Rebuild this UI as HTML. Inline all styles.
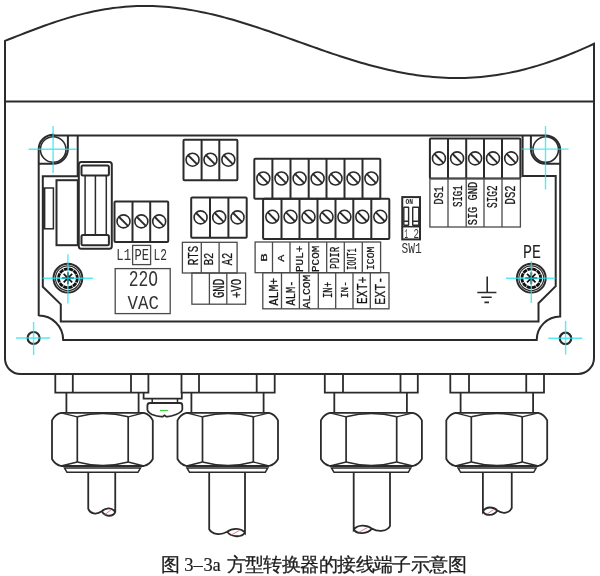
<!DOCTYPE html>
<html><head><meta charset="utf-8"><style>
html,body{margin:0;padding:0;background:#fff;width:600px;height:576px;overflow:hidden}
svg{display:block;will-change:transform}
</style></head><body>
<svg width="600" height="576" viewBox="0 0 600 576">
<path d="M5.0,40.86 L9.0,39.30 L13.0,37.74 L17.0,36.17 L21.0,34.60 L25.0,33.05 L29.0,31.50 L33.0,29.98 L37.0,28.47 L41.0,26.99 L45.0,25.54 L49.0,24.13 L53.0,22.75 L57.0,21.41 L61.0,20.11 L65.0,18.86 L69.0,17.65 L73.0,16.50 L77.0,15.40 L81.0,14.35 L85.0,13.36 L89.0,12.42 L93.0,11.55 L97.0,10.74 L101.0,9.99 L105.0,9.30 L109.0,8.67 L113.0,8.11 L117.0,7.62 L121.0,7.19 L125.0,6.82 L129.0,6.52 L133.0,6.29 L137.0,6.12 L141.0,6.02 L145.0,5.99 L149.0,6.01 L153.0,6.11 L157.0,6.26 L161.0,6.48 L165.0,6.76 L169.0,7.11 L173.0,7.51 L177.0,7.97 L181.0,8.49 L185.0,9.07 L189.0,9.70 L193.0,10.38 L197.0,11.12 L201.0,11.91 L205.0,12.74 L209.0,13.63 L213.0,14.56 L217.0,15.53 L221.0,16.55 L225.0,17.60 L229.0,18.70 L233.0,19.83 L237.0,21.00 L241.0,22.20 L245.0,23.42 L249.0,24.68 L253.0,25.96 L257.0,27.27 L261.0,28.60 L265.0,29.95 L269.0,31.32 L273.0,32.70 L277.0,34.10 L281.0,35.50 L285.0,36.92 L289.0,38.34 L293.0,39.77 L297.0,41.20 L301.0,42.63 L305.0,44.06 L309.0,45.48 L313.0,46.90 L317.0,48.31 L321.0,49.71 L325.0,51.10 L329.0,52.47 L333.0,53.83 L337.0,55.16 L341.0,56.48 L345.0,57.77 L349.0,59.04 L353.0,60.28 L357.0,61.49 L361.0,62.68 L365.0,63.83 L369.0,64.95 L373.0,66.03 L377.0,67.07 L381.0,68.08 L385.0,69.05 L389.0,69.97 L393.0,70.85 L397.0,71.69 L401.0,72.47 L405.0,73.22 L409.0,73.91 L413.0,74.55 L417.0,75.14 L421.0,75.68 L425.0,76.17 L429.0,76.60 L433.0,76.98 L437.0,77.30 L441.0,77.56 L445.0,77.77 L449.0,77.91 L453.0,78.00 L457.0,78.03 L461.0,78.00 L465.0,77.91 L469.0,77.76 L473.0,77.54 L477.0,77.27 L481.0,76.93 L485.0,76.53 L489.0,76.07 L493.0,75.55 L497.0,74.97 L501.0,74.33 L505.0,73.63 L509.0,72.86 L513.0,72.04 L517.0,71.15 L521.0,70.21 L525.0,69.21 L529.0,68.15 L533.0,67.04 L537.0,65.87 L541.0,64.64 L545.0,63.36 L549.0,62.03 L553.0,60.65 L557.0,59.21 L561.0,57.73 L565.0,56.20 L569.0,54.62 L573.0,52.99 L577.0,51.33 L581.0,49.62 L585.0,47.87 L589.0,46.09 L593.0,44.26 L594.0,43.80 L594,358 A16,16 0 0 1 578,374 L20.5,374 A15.5,15.5 0 0 1 5,358.5 Z" fill="none" stroke="#2b2b2b" stroke-width="2"/>
<line x1="5" y1="101.5" x2="594" y2="101.5" stroke="#2b2b2b" stroke-width="2.2"/>
<path d="M38.7,316 L38.7,149.3 A14.5,14.5 0 0 1 53.2,134.8 L53.2,135.5 L545.6,135.5 A14.6,14.6 0 0 1 560.2,150.1 L560.2,316.5 A23.5,23.5 0 0 0 536.7,340 L63.2,340 A24.5,24.5 0 0 0 38.7,315.5" fill="none" stroke="#2b2b2b" stroke-width="2"/>
<path d="M38.7,163.8 L53.1,163.8 A14.8,14.8 0 0 0 67.9,149.2 L67.9,135.5" fill="none" stroke="#2b2b2b" stroke-width="2"/>
<path d="M530.9,135.5 L530.9,149.1 A14.6,14.6 0 0 0 545.5,163.8 L560.2,163.8" fill="none" stroke="#2b2b2b" stroke-width="2"/>
<circle cx="53.2" cy="149.5" r="12.8" fill="none" stroke="#2b2b2b" stroke-width="1.6"/>
<circle cx="545.7" cy="149.6" r="12.8" fill="none" stroke="#2b2b2b" stroke-width="1.6"/>
<path d="M77.7,135.5 L77.7,176.2 L42.8,176.2 L42.8,286.8 L60.8,304.4 L60.8,321.4 L538.5,321.4 L538.5,303.2 L555.7,286.2 L555.7,176 L522.6,176 L522.6,135.5" fill="none" stroke="#2b2b2b" stroke-width="2"/>
<circle cx="33.6" cy="338" r="6" fill="none" stroke="#2b2b2b" stroke-width="2.2"/>
<circle cx="565.5" cy="338.4" r="5.7" fill="none" stroke="#2b2b2b" stroke-width="2.2"/>
<rect x="44" y="188" width="9.4" height="40.8" fill="none" stroke="#2b2b2b" stroke-width="1.5"/>
<line x1="44.3" y1="188" x2="44.3" y2="228.8" stroke="#2b2b2b" stroke-width="2.2"/>
<rect x="56.5" y="180.2" width="21.3" height="65" fill="none" stroke="#2b2b2b" stroke-width="2"/>
<rect x="78.8" y="162" width="33" height="86.8" rx="2.5" fill="none" stroke="#2b2b2b" stroke-width="2"/>
<rect x="81.5" y="165.4" width="27.4" height="10.1" rx="1.5" fill="none" stroke="#2b2b2b" stroke-width="2"/>
<rect x="81.5" y="234.9" width="27.4" height="10.3" rx="1.5" fill="none" stroke="#2b2b2b" stroke-width="2"/>
<path d="M85.1,175.5 V234.9 M95.4,175.5 V234.9 M106.3,175.5 V234.9" stroke="#2b2b2b" stroke-width="1.5"/>
<rect x="114.5" y="201.5" width="53.70" height="40.50" rx="1" fill="none" stroke="#2b2b2b" stroke-width="2"/>
<line x1="132.5" y1="201.5" x2="132.5" y2="242" stroke="#2b2b2b" stroke-width="2"/>
<line x1="150.2" y1="201.5" x2="150.2" y2="242" stroke="#2b2b2b" stroke-width="2"/>
<circle cx="123.5" cy="221.4" r="6.5" fill="none" stroke="#2b2b2b" stroke-width="1.6"/>
<line x1="118.82" y1="216.72" x2="128.18" y2="226.08" stroke="#2b2b2b" stroke-width="1.9"/>
<circle cx="141.35" cy="221.4" r="6.5" fill="none" stroke="#2b2b2b" stroke-width="1.6"/>
<line x1="136.67" y1="216.72" x2="146.03" y2="226.08" stroke="#2b2b2b" stroke-width="1.9"/>
<circle cx="159.2" cy="221.4" r="6.5" fill="none" stroke="#2b2b2b" stroke-width="1.6"/>
<line x1="154.52" y1="216.72" x2="163.88" y2="226.08" stroke="#2b2b2b" stroke-width="1.9"/>
<rect x="183.5" y="139.8" width="53.90" height="40.40" rx="1" fill="none" stroke="#2b2b2b" stroke-width="2"/>
<line x1="201.6" y1="139.8" x2="201.6" y2="180.2" stroke="#2b2b2b" stroke-width="2"/>
<line x1="219.3" y1="139.8" x2="219.3" y2="180.2" stroke="#2b2b2b" stroke-width="2"/>
<circle cx="192.55" cy="159.7" r="6.5" fill="none" stroke="#2b2b2b" stroke-width="1.6"/>
<line x1="187.87" y1="155.02" x2="197.23" y2="164.38" stroke="#2b2b2b" stroke-width="1.9"/>
<circle cx="210.45" cy="159.7" r="6.5" fill="none" stroke="#2b2b2b" stroke-width="1.6"/>
<line x1="205.77" y1="155.02" x2="215.13" y2="164.38" stroke="#2b2b2b" stroke-width="1.9"/>
<circle cx="228.35000000000002" cy="159.7" r="6.5" fill="none" stroke="#2b2b2b" stroke-width="1.6"/>
<line x1="223.67" y1="155.02" x2="233.03" y2="164.38" stroke="#2b2b2b" stroke-width="1.9"/>
<rect x="191.2" y="197.4" width="55.50" height="40.40" rx="1" fill="none" stroke="#2b2b2b" stroke-width="2"/>
<line x1="210" y1="197.4" x2="210" y2="237.8" stroke="#2b2b2b" stroke-width="2"/>
<line x1="228.4" y1="197.4" x2="228.4" y2="237.8" stroke="#2b2b2b" stroke-width="2"/>
<circle cx="200.6" cy="217.4" r="6.5" fill="none" stroke="#2b2b2b" stroke-width="1.6"/>
<line x1="195.92" y1="212.72" x2="205.28" y2="222.08" stroke="#2b2b2b" stroke-width="1.9"/>
<circle cx="219.2" cy="217.4" r="6.5" fill="none" stroke="#2b2b2b" stroke-width="1.6"/>
<line x1="214.52" y1="212.72" x2="223.88" y2="222.08" stroke="#2b2b2b" stroke-width="1.9"/>
<circle cx="237.55" cy="217.4" r="6.5" fill="none" stroke="#2b2b2b" stroke-width="1.6"/>
<line x1="232.87" y1="212.72" x2="242.23" y2="222.08" stroke="#2b2b2b" stroke-width="1.9"/>
<rect x="254.3" y="158.8" width="126.00" height="39.90" rx="1" fill="none" stroke="#2b2b2b" stroke-width="2"/>
<line x1="272.4" y1="158.8" x2="272.4" y2="198.7" stroke="#2b2b2b" stroke-width="2"/>
<line x1="290.5" y1="158.8" x2="290.5" y2="198.7" stroke="#2b2b2b" stroke-width="2"/>
<line x1="308.7" y1="158.8" x2="308.7" y2="198.7" stroke="#2b2b2b" stroke-width="2"/>
<line x1="326.5" y1="158.8" x2="326.5" y2="198.7" stroke="#2b2b2b" stroke-width="2"/>
<line x1="344.5" y1="158.8" x2="344.5" y2="198.7" stroke="#2b2b2b" stroke-width="2"/>
<line x1="362.5" y1="158.8" x2="362.5" y2="198.7" stroke="#2b2b2b" stroke-width="2"/>
<circle cx="263.35" cy="178.5" r="6.5" fill="none" stroke="#2b2b2b" stroke-width="1.6"/>
<line x1="258.67" y1="173.82" x2="268.03" y2="183.18" stroke="#2b2b2b" stroke-width="1.9"/>
<circle cx="281.45" cy="178.5" r="6.5" fill="none" stroke="#2b2b2b" stroke-width="1.6"/>
<line x1="276.77" y1="173.82" x2="286.13" y2="183.18" stroke="#2b2b2b" stroke-width="1.9"/>
<circle cx="299.6" cy="178.5" r="6.5" fill="none" stroke="#2b2b2b" stroke-width="1.6"/>
<line x1="294.92" y1="173.82" x2="304.28" y2="183.18" stroke="#2b2b2b" stroke-width="1.9"/>
<circle cx="317.6" cy="178.5" r="6.5" fill="none" stroke="#2b2b2b" stroke-width="1.6"/>
<line x1="312.92" y1="173.82" x2="322.28" y2="183.18" stroke="#2b2b2b" stroke-width="1.9"/>
<circle cx="335.5" cy="178.5" r="6.5" fill="none" stroke="#2b2b2b" stroke-width="1.6"/>
<line x1="330.82" y1="173.82" x2="340.18" y2="183.18" stroke="#2b2b2b" stroke-width="1.9"/>
<circle cx="353.5" cy="178.5" r="6.5" fill="none" stroke="#2b2b2b" stroke-width="1.6"/>
<line x1="348.82" y1="173.82" x2="358.18" y2="183.18" stroke="#2b2b2b" stroke-width="1.9"/>
<circle cx="371.4" cy="178.5" r="6.5" fill="none" stroke="#2b2b2b" stroke-width="1.6"/>
<line x1="366.72" y1="173.82" x2="376.08" y2="183.18" stroke="#2b2b2b" stroke-width="1.9"/>
<rect x="263.1" y="198.7" width="126.20" height="40.30" rx="1" fill="none" stroke="#2b2b2b" stroke-width="2"/>
<line x1="281.5" y1="198.7" x2="281.5" y2="239.0" stroke="#2b2b2b" stroke-width="2"/>
<line x1="299.5" y1="198.7" x2="299.5" y2="239.0" stroke="#2b2b2b" stroke-width="2"/>
<line x1="317.5" y1="198.7" x2="317.5" y2="239.0" stroke="#2b2b2b" stroke-width="2"/>
<line x1="335.5" y1="198.7" x2="335.5" y2="239.0" stroke="#2b2b2b" stroke-width="2"/>
<line x1="353.3" y1="198.7" x2="353.3" y2="239.0" stroke="#2b2b2b" stroke-width="2"/>
<line x1="371.3" y1="198.7" x2="371.3" y2="239.0" stroke="#2b2b2b" stroke-width="2"/>
<circle cx="272.3" cy="216.8" r="6.5" fill="none" stroke="#2b2b2b" stroke-width="1.6"/>
<line x1="267.62" y1="212.12" x2="276.98" y2="221.48" stroke="#2b2b2b" stroke-width="1.9"/>
<circle cx="290.5" cy="216.8" r="6.5" fill="none" stroke="#2b2b2b" stroke-width="1.6"/>
<line x1="285.82" y1="212.12" x2="295.18" y2="221.48" stroke="#2b2b2b" stroke-width="1.9"/>
<circle cx="308.5" cy="216.8" r="6.5" fill="none" stroke="#2b2b2b" stroke-width="1.6"/>
<line x1="303.82" y1="212.12" x2="313.18" y2="221.48" stroke="#2b2b2b" stroke-width="1.9"/>
<circle cx="326.5" cy="216.8" r="6.5" fill="none" stroke="#2b2b2b" stroke-width="1.6"/>
<line x1="321.82" y1="212.12" x2="331.18" y2="221.48" stroke="#2b2b2b" stroke-width="1.9"/>
<circle cx="344.4" cy="216.8" r="6.5" fill="none" stroke="#2b2b2b" stroke-width="1.6"/>
<line x1="339.72" y1="212.12" x2="349.08" y2="221.48" stroke="#2b2b2b" stroke-width="1.9"/>
<circle cx="362.3" cy="216.8" r="6.5" fill="none" stroke="#2b2b2b" stroke-width="1.6"/>
<line x1="357.62" y1="212.12" x2="366.98" y2="221.48" stroke="#2b2b2b" stroke-width="1.9"/>
<circle cx="380.3" cy="216.8" r="6.5" fill="none" stroke="#2b2b2b" stroke-width="1.6"/>
<line x1="375.62" y1="212.12" x2="384.98" y2="221.48" stroke="#2b2b2b" stroke-width="1.9"/>
<rect x="429.9" y="138.4" width="90.50" height="40.10" rx="1" fill="none" stroke="#2b2b2b" stroke-width="2"/>
<line x1="448" y1="138.4" x2="448" y2="178.5" stroke="#2b2b2b" stroke-width="2"/>
<line x1="466.2" y1="138.4" x2="466.2" y2="178.5" stroke="#2b2b2b" stroke-width="2"/>
<line x1="484" y1="138.4" x2="484" y2="178.5" stroke="#2b2b2b" stroke-width="2"/>
<line x1="502" y1="138.4" x2="502" y2="178.5" stroke="#2b2b2b" stroke-width="2"/>
<circle cx="438.95" cy="158.4" r="6.5" fill="none" stroke="#2b2b2b" stroke-width="1.6"/>
<line x1="434.27" y1="153.72" x2="443.63" y2="163.08" stroke="#2b2b2b" stroke-width="1.9"/>
<circle cx="457.1" cy="158.4" r="6.5" fill="none" stroke="#2b2b2b" stroke-width="1.6"/>
<line x1="452.42" y1="153.72" x2="461.78" y2="163.08" stroke="#2b2b2b" stroke-width="1.9"/>
<circle cx="475.1" cy="158.4" r="6.5" fill="none" stroke="#2b2b2b" stroke-width="1.6"/>
<line x1="470.42" y1="153.72" x2="479.78" y2="163.08" stroke="#2b2b2b" stroke-width="1.9"/>
<circle cx="493.0" cy="158.4" r="6.5" fill="none" stroke="#2b2b2b" stroke-width="1.6"/>
<line x1="488.32" y1="153.72" x2="497.68" y2="163.08" stroke="#2b2b2b" stroke-width="1.9"/>
<circle cx="511.2" cy="158.4" r="6.5" fill="none" stroke="#2b2b2b" stroke-width="1.6"/>
<line x1="506.52" y1="153.72" x2="515.88" y2="163.08" stroke="#2b2b2b" stroke-width="1.9"/>
<rect x="182.4" y="242.3" width="54.70" height="30.70" fill="none" stroke="#4a4a4a" stroke-width="1.3"/>
<line x1="201.3" y1="242.3" x2="201.3" y2="273" stroke="#4a4a4a" stroke-width="1.3"/>
<line x1="219.1" y1="242.3" x2="219.1" y2="273" stroke="#4a4a4a" stroke-width="1.3"/>
<rect x="191.9" y="273" width="53.70" height="31.20" fill="none" stroke="#4a4a4a" stroke-width="1.3"/>
<line x1="209.4" y1="273" x2="209.4" y2="304.2" stroke="#4a4a4a" stroke-width="1.3"/>
<line x1="226.8" y1="273" x2="226.8" y2="304.2" stroke="#4a4a4a" stroke-width="1.3"/>
<text transform="translate(198.20,265.30) rotate(-90)" font-size="15.29" font-family="Liberation Mono, monospace" fill="#151515" stroke="#151515" stroke-width="0.25" textLength="19.40" lengthAdjust="spacingAndGlyphs" font-weight="normal">RTS</text>
<text transform="translate(213.40,265.30) rotate(-90)" font-size="13.00" font-family="Liberation Mono, monospace" fill="#151515" stroke="#151515" stroke-width="0.25" textLength="12.70" lengthAdjust="spacingAndGlyphs" font-weight="normal">B2</text>
<text transform="translate(232.00,265.30) rotate(-90)" font-size="14.43" font-family="Liberation Mono, monospace" fill="#151515" stroke="#151515" stroke-width="0.25" textLength="12.70" lengthAdjust="spacingAndGlyphs" font-weight="normal">A2</text>
<text transform="translate(223.70,298.10) rotate(-90)" font-size="15.57" font-family="Liberation Mono, monospace" fill="#151515" stroke="#151515" stroke-width="0.25" textLength="19.40" lengthAdjust="spacingAndGlyphs" font-weight="normal">GND</text>
<text transform="translate(241.40,298.10) rotate(-90)" font-size="14.86" font-family="Liberation Mono, monospace" fill="#151515" stroke="#151515" stroke-width="0.25" textLength="19.40" lengthAdjust="spacingAndGlyphs" font-weight="normal">+VO</text>
<rect x="255.1" y="242" width="125.50" height="30.70" fill="none" stroke="#4a4a4a" stroke-width="1.3"/>
<line x1="272.5" y1="242" x2="272.5" y2="272.7" stroke="#4a4a4a" stroke-width="1.3"/>
<line x1="290" y1="242" x2="290" y2="272.7" stroke="#4a4a4a" stroke-width="1.3"/>
<line x1="308.8" y1="242" x2="308.8" y2="272.7" stroke="#4a4a4a" stroke-width="1.3"/>
<line x1="326.7" y1="242" x2="326.7" y2="272.7" stroke="#4a4a4a" stroke-width="1.3"/>
<line x1="344.3" y1="242" x2="344.3" y2="272.7" stroke="#4a4a4a" stroke-width="1.3"/>
<line x1="362.3" y1="242" x2="362.3" y2="272.7" stroke="#4a4a4a" stroke-width="1.3"/>
<rect x="262.8" y="272.7" width="126.20" height="36.10" fill="none" stroke="#4a4a4a" stroke-width="1.3"/>
<line x1="281.5" y1="272.7" x2="281.5" y2="308.8" stroke="#4a4a4a" stroke-width="1.3"/>
<line x1="299.4" y1="272.7" x2="299.4" y2="308.8" stroke="#4a4a4a" stroke-width="1.3"/>
<line x1="318.3" y1="272.7" x2="318.3" y2="308.8" stroke="#4a4a4a" stroke-width="1.3"/>
<line x1="335.7" y1="272.7" x2="335.7" y2="308.8" stroke="#4a4a4a" stroke-width="1.3"/>
<line x1="353" y1="272.7" x2="353" y2="308.8" stroke="#4a4a4a" stroke-width="1.3"/>
<line x1="370.3" y1="272.7" x2="370.3" y2="308.8" stroke="#4a4a4a" stroke-width="1.3"/>
<text transform="translate(266.70,261.80) rotate(-90)" font-size="9.14" font-family="Liberation Mono, monospace" fill="#151515" stroke="#151515" stroke-width="0.25" textLength="8.40" lengthAdjust="spacingAndGlyphs" font-weight="normal">B</text>
<text transform="translate(284.00,261.80) rotate(-90)" font-size="9.14" font-family="Liberation Mono, monospace" fill="#151515" stroke="#151515" stroke-width="0.25" textLength="7.10" lengthAdjust="spacingAndGlyphs" font-weight="normal">A</text>
<text transform="translate(302.70,272.00) rotate(-90)" font-size="11.00" font-family="Liberation Mono, monospace" fill="#151515" stroke="#151515" stroke-width="0.25" textLength="26.30" lengthAdjust="spacingAndGlyphs" font-weight="normal">PUL+</text>
<text transform="translate(319.00,272.00) rotate(-90)" font-size="11.43" font-family="Liberation Mono, monospace" fill="#151515" stroke="#151515" stroke-width="0.25" textLength="26.30" lengthAdjust="spacingAndGlyphs" font-weight="normal">PCOM</text>
<text transform="translate(339.00,268.90) rotate(-90)" font-size="13.29" font-family="Liberation Mono, monospace" fill="#151515" stroke="#151515" stroke-width="0.25" textLength="22.20" lengthAdjust="spacingAndGlyphs" font-weight="normal">PDIR</text>
<text transform="translate(356.30,270.00) rotate(-90)" font-size="12.29" font-family="Liberation Mono, monospace" fill="#151515" stroke="#151515" stroke-width="0.25" textLength="22.00" lengthAdjust="spacingAndGlyphs" font-weight="normal">IOUT1</text>
<text transform="translate(374.30,270.00) rotate(-90)" font-size="11.43" font-family="Liberation Mono, monospace" fill="#151515" stroke="#151515" stroke-width="0.25" textLength="23.30" lengthAdjust="spacingAndGlyphs" font-weight="normal">ICOM</text>
<text transform="translate(277.60,305.40) rotate(-90)" font-size="11.86" font-family="Liberation Mono, monospace" fill="#151515" stroke="#151515" stroke-width="0.25" textLength="27.60" lengthAdjust="spacingAndGlyphs" font-weight="normal">ALM+</text>
<text transform="translate(295.00,305.40) rotate(-90)" font-size="12.86" font-family="Liberation Mono, monospace" fill="#151515" stroke="#151515" stroke-width="0.25" textLength="25.00" lengthAdjust="spacingAndGlyphs" font-weight="normal">ALM-</text>
<text transform="translate(310.40,308.60) rotate(-90)" font-size="11.00" font-family="Liberation Mono, monospace" fill="#151515" stroke="#151515" stroke-width="0.25" textLength="34.00" lengthAdjust="spacingAndGlyphs" font-weight="normal">ALCOM</text>
<text transform="translate(332.30,298.00) rotate(-90)" font-size="13.29" font-family="Liberation Mono, monospace" fill="#151515" stroke="#151515" stroke-width="0.25" textLength="16.00" lengthAdjust="spacingAndGlyphs" font-weight="normal">IN+</text>
<text transform="translate(348.30,298.00) rotate(-90)" font-size="10.43" font-family="Liberation Mono, monospace" fill="#151515" stroke="#151515" stroke-width="0.25" textLength="16.70" lengthAdjust="spacingAndGlyphs" font-weight="normal">IN-</text>
<text transform="translate(367.00,304.00) rotate(-90)" font-size="14.29" font-family="Liberation Mono, monospace" fill="#151515" stroke="#151515" stroke-width="0.25" textLength="27.30" lengthAdjust="spacingAndGlyphs" font-weight="normal">EXT+</text>
<text transform="translate(385.00,304.70) rotate(-90)" font-size="14.29" font-family="Liberation Mono, monospace" fill="#151515" stroke="#151515" stroke-width="0.25" textLength="28.00" lengthAdjust="spacingAndGlyphs" font-weight="normal">EXT-</text>
<rect x="429.9" y="178.5" width="90.50" height="48.50" fill="none" stroke="#4a4a4a" stroke-width="1.3"/>
<line x1="448" y1="178.5" x2="448" y2="227" stroke="#4a4a4a" stroke-width="1.3"/>
<line x1="466.2" y1="178.5" x2="466.2" y2="227" stroke="#4a4a4a" stroke-width="1.3"/>
<line x1="484" y1="178.5" x2="484" y2="227" stroke="#4a4a4a" stroke-width="1.3"/>
<line x1="502" y1="178.5" x2="502" y2="227" stroke="#4a4a4a" stroke-width="1.3"/>
<text transform="translate(443.20,204.40) rotate(-90)" font-size="13.57" font-family="Liberation Mono, monospace" fill="#151515" stroke="#151515" stroke-width="0.25" textLength="18.20" lengthAdjust="spacingAndGlyphs" font-weight="normal">DS1</text>
<text transform="translate(461.50,207.00) rotate(-90)" font-size="13.00" font-family="Liberation Mono, monospace" fill="#151515" stroke="#151515" stroke-width="0.25" textLength="21.70" lengthAdjust="spacingAndGlyphs" font-weight="normal">SIG1</text>
<text transform="translate(477.00,225.30) rotate(-90)" font-size="13.57" font-family="Liberation Mono, monospace" fill="#151515" stroke="#151515" stroke-width="0.25" textLength="43.40" lengthAdjust="spacingAndGlyphs" font-weight="normal">SIG GND</text>
<text transform="translate(496.50,208.00) rotate(-90)" font-size="14.86" font-family="Liberation Mono, monospace" fill="#151515" stroke="#151515" stroke-width="0.25" textLength="22.70" lengthAdjust="spacingAndGlyphs" font-weight="normal">SIG2</text>
<text transform="translate(515.30,204.40) rotate(-90)" font-size="15.43" font-family="Liberation Mono, monospace" fill="#151515" stroke="#151515" stroke-width="0.25" textLength="19.10" lengthAdjust="spacingAndGlyphs" font-weight="normal">DS2</text>
<text x="116.30" y="260.00" font-size="16.71" font-family="Liberation Mono, monospace" fill="#333" textLength="14.70" lengthAdjust="spacingAndGlyphs" font-weight="normal">L1</text>
<rect x="132.6" y="245.4" width="18" height="19.2" fill="none" stroke="#4a4a4a" stroke-width="1.3"/>
<text x="134.50" y="260.00" font-size="16.71" font-family="Liberation Mono, monospace" fill="#333" textLength="14.50" lengthAdjust="spacingAndGlyphs" font-weight="normal">PE</text>
<text x="153.60" y="260.00" font-size="16.71" font-family="Liberation Mono, monospace" fill="#333" textLength="13.40" lengthAdjust="spacingAndGlyphs" font-weight="normal">L2</text>
<rect x="115.2" y="268.6" width="55" height="45" fill="none" stroke="#4a4a4a" stroke-width="1.3"/>
<text x="128.70" y="286.00" font-size="22.86" font-family="Liberation Mono, monospace" fill="#333" textLength="29.30" lengthAdjust="spacingAndGlyphs" font-weight="normal">22O</text>
<text x="127.60" y="308.60" font-size="20.86" font-family="Liberation Mono, monospace" fill="#333" textLength="31.40" lengthAdjust="spacingAndGlyphs" font-weight="normal">VAC</text>
<rect x="402.25" y="197.1" width="17.75" height="42.3" fill="none" stroke="#2b2b2b" stroke-width="2"/>
<line x1="402.2" y1="226.7" x2="420" y2="226.7" stroke="#2b2b2b" stroke-width="1.5"/>
<text x="405.50" y="204.00" font-size="6.43" font-family="Liberation Mono, monospace" fill="#222" textLength="7.50" lengthAdjust="spacingAndGlyphs" font-weight="bold">ON</text>
<rect x="403.1" y="206.5" width="6.2" height="19.5" rx="1" fill="#2b2b2b"/>
<rect x="404.5" y="208" width="3.4" height="12.5" fill="#fff"/>
<rect x="404.5" y="222" width="3.4" height="2.5" fill="#fff"/>
<rect x="412" y="206.5" width="7.5" height="19.5" rx="1" fill="#2b2b2b"/>
<rect x="413.4" y="208" width="4.7" height="12.5" fill="#fff"/>
<rect x="413.4" y="222" width="4.7" height="2.5" fill="#fff"/>
<text x="404.50" y="237.80" font-size="13.14" font-family="Liberation Mono, monospace" fill="#333" textLength="3.50" lengthAdjust="spacingAndGlyphs" font-weight="normal">1</text>
<text x="413.50" y="237.80" font-size="13.14" font-family="Liberation Mono, monospace" fill="#333" textLength="5.50" lengthAdjust="spacingAndGlyphs" font-weight="normal">2</text>
<text x="401.50" y="253.40" font-size="14.00" font-family="Liberation Mono, monospace" fill="#333" textLength="20.20" lengthAdjust="spacingAndGlyphs" font-weight="normal">SW1</text>
<text x="523.00" y="258.10" font-size="19.43" font-family="Liberation Mono, monospace" fill="#222" textLength="18.00" lengthAdjust="spacingAndGlyphs" font-weight="normal">PE</text>
<path d="M487.2,276.4 V292.5 M477.3,292.5 H496.4 M481.3,297.2 H491.7 M484.4,302.4 H489" stroke="#2b2b2b" stroke-width="1.6" fill="none"/>
<circle cx="67.9" cy="278.2" r="14.4" fill="none" stroke="#2b2b2b" stroke-width="2"/>
<circle cx="67.9" cy="278.2" r="12.4" fill="none" stroke="#2b2b2b" stroke-width="1.2"/>
<circle cx="67.9" cy="278.2" r="9.4" fill="none" stroke="#111" stroke-width="2.8" stroke-dasharray="4.4 0.6"/>
<line x1="67.9" y1="278.2" x2="67.90" y2="284.20" stroke="#111" stroke-width="1.7"/>
<line x1="67.9" y1="278.2" x2="63.66" y2="282.44" stroke="#111" stroke-width="1.7"/>
<line x1="67.9" y1="278.2" x2="61.90" y2="278.20" stroke="#111" stroke-width="1.7"/>
<line x1="67.9" y1="278.2" x2="63.66" y2="273.96" stroke="#111" stroke-width="1.7"/>
<line x1="67.9" y1="278.2" x2="67.90" y2="272.20" stroke="#111" stroke-width="1.7"/>
<line x1="67.9" y1="278.2" x2="72.14" y2="273.96" stroke="#111" stroke-width="1.7"/>
<line x1="67.9" y1="278.2" x2="73.90" y2="278.20" stroke="#111" stroke-width="1.7"/>
<line x1="67.9" y1="278.2" x2="72.14" y2="282.44" stroke="#111" stroke-width="1.7"/>
<circle cx="67.9" cy="278.2" r="2.4" fill="#111"/>
<circle cx="531.3" cy="278.2" r="14.4" fill="none" stroke="#2b2b2b" stroke-width="2"/>
<circle cx="531.3" cy="278.2" r="12.4" fill="none" stroke="#2b2b2b" stroke-width="1.2"/>
<circle cx="531.3" cy="278.2" r="9.4" fill="none" stroke="#111" stroke-width="2.8" stroke-dasharray="4.4 0.6"/>
<line x1="531.3" y1="278.2" x2="531.30" y2="284.20" stroke="#111" stroke-width="1.7"/>
<line x1="531.3" y1="278.2" x2="527.06" y2="282.44" stroke="#111" stroke-width="1.7"/>
<line x1="531.3" y1="278.2" x2="525.30" y2="278.20" stroke="#111" stroke-width="1.7"/>
<line x1="531.3" y1="278.2" x2="527.06" y2="273.96" stroke="#111" stroke-width="1.7"/>
<line x1="531.3" y1="278.2" x2="531.30" y2="272.20" stroke="#111" stroke-width="1.7"/>
<line x1="531.3" y1="278.2" x2="535.54" y2="273.96" stroke="#111" stroke-width="1.7"/>
<line x1="531.3" y1="278.2" x2="537.30" y2="278.20" stroke="#111" stroke-width="1.7"/>
<line x1="531.3" y1="278.2" x2="535.54" y2="282.44" stroke="#111" stroke-width="1.7"/>
<circle cx="531.3" cy="278.2" r="2.4" fill="#111"/>
<path d="M55.3,374 V392.7 H148.4 V374 M72.8,374 V392.7 M131,374 V392.7" fill="none" stroke="#2b2b2b" stroke-width="1.8"/>
<path d="M66.4,392.7 V412.8 M138.6,392.7 V412.8" fill="none" stroke="#2b2b2b" stroke-width="1.8"/>
<path d="M61.0,412.8 H143.8 Q149.8,414.3 152.8,420.3 V459.0 Q149.8,464.5 143.8,466.0 H61.0 Q55.0,464.5 52.0,459.0 V420.3 Q55.0,414.3 61.0,412.8 Z" fill="none" stroke="#2b2b2b" stroke-width="1.8"/>
<path d="M77.3,416.8 V462.0 M128.2,416.8 V462.0" fill="none" stroke="#2b2b2b" stroke-width="1.7"/>
<path d="M77.3,416.8 Q102.75,410.3 128.2,416.8 M77.3,462.0 Q102.75,469.0 128.2,462.0" fill="none" stroke="#2b2b2b" stroke-width="1.5"/>
<path d="M61.0,412.8 L77.3,416.8 M143.8,412.8 L128.2,416.8 M61.0,466.0 L77.3,462.0 M143.8,466.0 L128.2,462.0" fill="none" stroke="#2b2b2b" stroke-width="1.3"/>
<path d="M64.5,468.0 L67.0,472.3 H138.0 L140.5,468.0 Z" fill="none" stroke="#2b2b2b" stroke-width="1.5"/>
<path d="M88.25,472.3 V508.8 C90.4,513.8 96.3,515.3 101.8,511.3 C105.8,507.0 112.5,507.3 115.25,512.3 V472.3 M101.8,511.3 C105.0,516.8 112.5,517.3 115.25,512.3" fill="none" stroke="#2b2b2b" stroke-width="1.8"/>
<path d="M104.5,514.8 L111.2,509.8" stroke="#d86070" stroke-width="0.8" fill="none"/>
<path d="M181.5,374 V392.7 H274.7 V374 M199,374 V392.7 M256.7,374 V392.7" fill="none" stroke="#2b2b2b" stroke-width="1.8"/>
<path d="M191.4,392.7 V412.8 M263.6,392.7 V412.8" fill="none" stroke="#2b2b2b" stroke-width="1.8"/>
<path d="M186.5,412.8 H269 Q275,414.3 278,420.3 V459.0 Q275,464.5 269,466.0 H186.5 Q180.5,464.5 177.5,459.0 V420.3 Q180.5,414.3 186.5,412.8 Z" fill="none" stroke="#2b2b2b" stroke-width="1.8"/>
<path d="M202.5,416.8 V462.0 M253.3,416.8 V462.0" fill="none" stroke="#2b2b2b" stroke-width="1.7"/>
<path d="M202.5,416.8 Q227.9,410.3 253.3,416.8 M202.5,462.0 Q227.9,469.0 253.3,462.0" fill="none" stroke="#2b2b2b" stroke-width="1.5"/>
<path d="M186.5,412.8 L202.5,416.8 M269,412.8 L253.3,416.8 M186.5,466.0 L202.5,462.0 M269,466.0 L253.3,462.0" fill="none" stroke="#2b2b2b" stroke-width="1.3"/>
<path d="M187,468.0 L189.5,472.3 H265.3 L267.8,468.0 Z" fill="none" stroke="#2b2b2b" stroke-width="1.5"/>
<path d="M209.2,472.3 V529.3 C212.1,534.3 219.9,535.8 227.1,531.8 C232.5,527.5 241.4,527.8 245,532.8 V472.3 M227.1,531.8 C231.4,537.3 241.4,537.8 245,532.8" fill="none" stroke="#2b2b2b" stroke-width="1.8"/>
<path d="M230.7,535.3 L239.6,530.3" stroke="#d86070" stroke-width="0.8" fill="none"/>
<path d="M324.8,374 V392.7 H417.8 V374 M343,374 V392.7 M400.5,374 V392.7" fill="none" stroke="#2b2b2b" stroke-width="1.8"/>
<path d="M334.3,392.7 V412.8 M406.9,392.7 V412.8" fill="none" stroke="#2b2b2b" stroke-width="1.8"/>
<path d="M329.9,412.8 H412.9 Q418.9,414.3 421.9,420.3 V459.0 Q418.9,464.5 412.9,466.0 H329.9 Q323.9,464.5 320.9,459.0 V420.3 Q323.9,414.3 329.9,412.8 Z" fill="none" stroke="#2b2b2b" stroke-width="1.8"/>
<path d="M346.1,416.8 V462.0 M396.7,416.8 V462.0" fill="none" stroke="#2b2b2b" stroke-width="1.7"/>
<path d="M346.1,416.8 Q371.4,410.3 396.7,416.8 M346.1,462.0 Q371.4,469.0 396.7,462.0" fill="none" stroke="#2b2b2b" stroke-width="1.5"/>
<path d="M329.9,412.8 L346.1,416.8 M412.9,412.8 L396.7,416.8 M329.9,466.0 L346.1,462.0 M412.9,466.0 L396.7,462.0" fill="none" stroke="#2b2b2b" stroke-width="1.3"/>
<path d="M331.5,468.0 L334.0,472.3 H408.3 L410.8,468.0 Z" fill="none" stroke="#2b2b2b" stroke-width="1.5"/>
<path d="M390,472.3 V526.1 C387.1,531.1 379.1,532.6 371.9,528.6 C366.4,524.3000000000001 357.3,524.6 353.7,529.6 V472.3 M371.9,528.6 C367.5,534.1 357.3,534.6 353.7,529.6" fill="none" stroke="#2b2b2b" stroke-width="1.8"/>
<path d="M368.2,527.1 L359.1,532.1" stroke="#d86070" stroke-width="0.8" fill="none"/>
<path d="M450.3,374 V392.7 H544 V374 M469,374 V392.7 M526.25,374 V392.7" fill="none" stroke="#2b2b2b" stroke-width="1.8"/>
<path d="M460.6,392.7 V412.8 M533.1,392.7 V412.8" fill="none" stroke="#2b2b2b" stroke-width="1.8"/>
<path d="M455.3,412.8 H538.2 Q544.2,414.3 547.2,420.3 V459.0 Q544.2,464.5 538.2,466.0 H455.3 Q449.3,464.5 446.3,459.0 V420.3 Q449.3,414.3 455.3,412.8 Z" fill="none" stroke="#2b2b2b" stroke-width="1.8"/>
<path d="M471.3,416.8 V462.0 M522.2,416.8 V462.0" fill="none" stroke="#2b2b2b" stroke-width="1.7"/>
<path d="M471.3,416.8 Q496.75,410.3 522.2,416.8 M471.3,462.0 Q496.75,469.0 522.2,462.0" fill="none" stroke="#2b2b2b" stroke-width="1.5"/>
<path d="M455.3,412.8 L471.3,416.8 M538.2,412.8 L522.2,416.8 M455.3,466.0 L471.3,462.0 M538.2,466.0 L522.2,462.0" fill="none" stroke="#2b2b2b" stroke-width="1.3"/>
<path d="M458.1,468.0 L460.6,472.3 H533.7 L536.2,468.0 Z" fill="none" stroke="#2b2b2b" stroke-width="1.5"/>
<path d="M511.75,472.3 V508.0 C509.4,513.0 503.1,514.5 497.3,510.5 C493.0,506.2 485.8,506.5 482.9,511.5 V472.3 M497.3,510.5 C493.9,516.0 485.8,516.5 482.9,511.5" fill="none" stroke="#2b2b2b" stroke-width="1.8"/>
<path d="M494.4,509.0 L487.2,514.0" stroke="#d86070" stroke-width="0.8" fill="none"/>
<path d="M143.6,392.6 V398.7 H181.8 V392.6" fill="none" stroke="#2b2b2b" stroke-width="1.8"/>
<path d="M152.2,398.7 V403 M177.5,398.7 V403" fill="none" stroke="#2b2b2b" stroke-width="1.5"/>
<path d="M150,403 H180 Q182.3,403 182.3,405.5 V409.5 Q182,412 176,414.5 Q170,417 166,416.5 L164.5,415.3 L163,416.5 Q158,417 152,414.5 Q147.5,412 147.4,409.5 V405.5 Q147.4,403 150,403 Z" fill="none" stroke="#2b2b2b" stroke-width="1.8"/>
<path d="M160,410.5 h8" stroke="#3cd23c" stroke-width="1.2"/>
<path d="M28.6,149.2 H76.8 M53.1,126 V173" stroke="#1ee4f0" stroke-width="1.4" fill="none" opacity="0.75"/>
<path d="M521.7,149.1 H568.6 M545.5,126 V189.4" stroke="#1ee4f0" stroke-width="1.4" fill="none" opacity="0.75"/>
<path d="M42.6,278.2 H93.1 M67.9,254.2 V303.6" stroke="#1ee4f0" stroke-width="1.4" fill="none" opacity="0.75"/>
<path d="M506,278.2 H555.5 M531.3,261 V303" stroke="#1ee4f0" stroke-width="1.4" fill="none" opacity="0.75"/>
<path d="M16.1,338 H50.1 M33.6,322 V354.9" stroke="#1ee4f0" stroke-width="1.4" fill="none" opacity="0.75"/>
<path d="M548.4,338.3 H582.3 M565.6,321 V354.5" stroke="#1ee4f0" stroke-width="1.4" fill="none" opacity="0.75"/>
<text x="160.8" y="570.8" font-size="19" font-family="Liberation Serif, serif" fill="#1e1e1e" stroke="#1e1e1e" stroke-width="0.3">图</text>
<text x="184.3 193.6 203.6 212.6" y="571.3" font-size="18.5" font-family="Liberation Serif, serif" fill="#1e1e1e" stroke="#1e1e1e" stroke-width="0.2">3–3a</text>
<text x="226.60 245.02 263.44 281.86 300.28 318.70 337.12 355.54 373.96 392.38 410.80 429.22 447.64" y="570.8" font-size="19" font-family="Liberation Serif, serif" fill="#1e1e1e" stroke="#1e1e1e" stroke-width="0.3">方型转换器的接线端子示意图</text>
</svg>
</body></html>
